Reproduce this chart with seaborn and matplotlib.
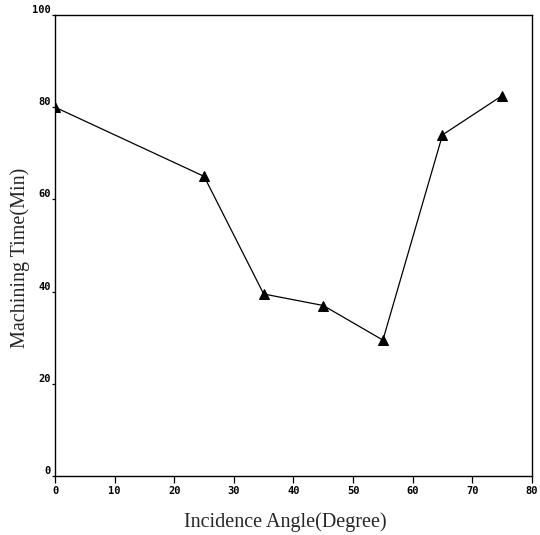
import matplotlib
matplotlib.use("Agg")
import matplotlib.pyplot as plt
import seaborn as sns
import pandas as pd

# Machining time measured at each incidence angle
angles = [0, 25, 35, 45, 55, 65, 75]
times = [80, 65, 39.5, 37, 29.5, 74, 82.5]
x_ticks = [0, 10, 20, 30, 40, 50, 60, 70, 80]
y_ticks = [0, 20, 40, 60, 80, 100]

df = pd.DataFrame({"angle": angles, "time": times})

sns.set_style("ticks")
fig = plt.figure(figsize=(5.4, 5.35), dpi=100)
ax = fig.add_axes([0.102, 0.110, 0.883, 0.862])

sns.lineplot(data=df, x="angle", y="time", ax=ax, color="black",
             linewidth=0.9, marker="^", markersize=6.5,
             markerfacecolor="black", markeredgecolor="black")

ax.set_xlim(0, 80)
ax.set_ylim(0, 100)
ax.set_xticks(x_ticks)
ax.set_yticks(y_ticks)

tick_font = dict(family="DejaVu Sans Mono", weight="bold", size=7.5)
ax.set_xticklabels([str(t) for t in x_ticks], fontdict=tick_font)
ax.set_yticklabels([str(t) for t in y_ticks], fontdict=tick_font, va="bottom")

ax.tick_params(axis="x", direction="out", length=5, width=0.9, pad=2, colors="black")
ax.tick_params(axis="y", direction="out", length=2, width=0.9, pad=1, colors="black")

for side in ["top", "right", "bottom", "left"]:
    ax.spines[side].set_visible(True)
    ax.spines[side].set_linewidth(1.0)
    ax.spines[side].set_color("black")

label_font = dict(family="Liberation Serif", size=14.5)
ax.set_xlabel("Incidence Angle(Degree)", fontdict=label_font)
ax.set_ylabel("Machining Time(Min)", fontdict=label_font)
ax.xaxis.set_label_coords(0.483, -0.100)
ax.yaxis.set_label_coords(-0.073, 0.473)
ax.xaxis.label.set_va("center")
ax.yaxis.label.set_va("center")

fig.savefig("out.png", dpi=100)
